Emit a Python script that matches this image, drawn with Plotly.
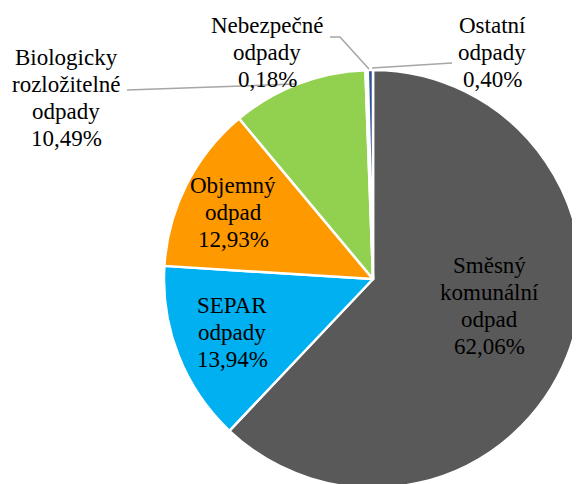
import plotly.graph_objects as go

# ---- data ----
categories = ["Směsný komunální odpad", "SEPAR odpady", "Objemný odpad",
              "Biologicky rozložitelné odpady", "Nebezpečné odpady", "Ostatní odpady"]
label_lines = [["Směsný", "komunální", "odpad"], ["SEPAR", "odpady"], ["Objemný", "odpad"],
               ["Biologicky", "rozložitelné", "odpady"], ["Nebezpečné", "odpady"], ["Ostatní", "odpady"]]
values = [62.06, 13.94, 12.93, 10.49, 0.18, 0.40]
colors = ["#595959", "#00B0F0", "#FF9900", "#92D050", "#8EA9DB", "#2F5597"]

# ---- layout constants (pixels, in page coordinates; page body has an 8px margin) ----
W, H = 580, 484
OFF = 8
def px(x):
    return (x - OFF) / W
def py(y):
    return 1 - (y - OFF) / H

FONT = "Times New Roman"

# centre of first line of each label (pixels) and line step
label_pos = [(489, 265), (232, 305), (233, 185), (66, 57), (267, 25), (492, 25)]
line_step = 27.3

fig = go.Figure(go.Pie(
    labels=categories, values=values, sort=False, direction="clockwise", rotation=0,
    marker=dict(colors=colors, line=dict(color="white", width=2.5)),
    textinfo="none", hoverinfo="label+percent", showlegend=False,
    textfont=dict(family=FONT),
    domain=dict(x=[px(164), px(582)], y=[py(488), py(70)]),
))

for lines, v, (cx, cy) in zip(label_lines, values, label_pos):
    pct = f"{v:.2f}".replace(".", ",") + "%"
    for i, t in enumerate(lines + [pct]):
        fig.add_annotation(
            x=px(cx), y=py(cy + i * line_step), xref="paper", yref="paper",
            text=t, showarrow=False, xanchor="center", yanchor="middle",
            font=dict(family=FONT, size=23, color="black"))

def path(points):
    return "M " + " L ".join(f"{px(x)},{py(y)}" for x, y in points)

leader = dict(color="#A6A6A6", width=1.5)
for pts in [[(127, 90), (295, 84)],
            [(330, 37), (340, 37), (369, 69)],
            [(372, 68), (452, 63)]]:
    fig.add_shape(type="path", xref="paper", yref="paper", path=path(pts), line=leader)

fig.update_layout(
    template="none",
    width=W, height=H, margin=dict(l=0, r=0, t=0, b=0),
    font=dict(family=FONT, color="black"),
    paper_bgcolor="white", plot_bgcolor="white",
)

fig.write_html("out.html", config={"displayModeBar": False})
